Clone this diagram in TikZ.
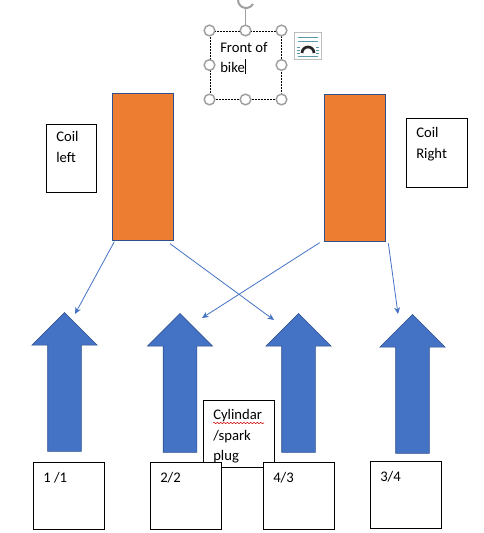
\documentclass[tikz,border=0pt]{standalone}
\usepackage{fontspec}
\setmainfont{Carlito}
\usetikzlibrary{shapes.arrows,decorations.pathmorphing,arrows.meta}
\definecolor{coilorange}{HTML}{ED7D31}
\definecolor{arrowblue}{HTML}{4472C4}
\definecolor{edgeblue}{HTML}{2F528F}
\definecolor{handlegray}{HTML}{A0A0A0}
\definecolor{wrapteal}{HTML}{5B9AA8}
\tikzset{
  coilbar/.style={draw=edgeblue,line width=.5pt,fill=coilorange,inner sep=0pt,minimum width=45.75pt,minimum height=110.25pt},
  bigarrow/.style={single arrow,shape border rotate=90,draw=edgeblue,line width=.4pt,fill=arrowblue,inner sep=0pt,text width=24.75pt,
    minimum height=104.25pt,single arrow head extend=12pt,single arrow tip angle=90,anchor=tip},
  whitebox/.style={draw=black,line width=.75pt,fill=white,inner sep=0pt},
  cyl/.style={whitebox,minimum width=53.25pt,minimum height=50.25pt},
  boxtext/.style={inner sep=0pt,anchor=north west,align=left,font=\fontsize{11}{15.5}\selectfont},
  link/.style={draw=arrowblue,line width=.6pt,-{Stealth[length=5pt,width=4.5pt]}},
  grip/.style={circle,draw=handlegray,line width=1.1pt,fill=white,inner sep=0pt,minimum size=8pt}
}
\begin{document}
\begin{tikzpicture}[x=.75pt,y=-.75pt]
\useasboundingbox (0,0) rectangle (483,533);
\fill[white] (0,0) rectangle (483,533);

% coils
\node[coilbar] (coilL) at (142.5,166.5) {};
\node[coilbar] (coilR) at (354.5,167.5) {};
\node[whitebox,minimum width=37.5pt,minimum height=51pt] (boxL) at (71,158) {};
\node[whitebox,minimum width=45.75pt,minimum height=51.75pt] (boxR) at (436.5,152.5) {};
\node[boxtext] (textL) at (56,131) {Coil\\left};
\node[boxtext] (textR) at (416,127) {Coil\\Right};

% big arrows
\node[bigarrow] (a1) at (64.5,312) {};
\node[bigarrow] (a2) at (180,313) {};
\node[bigarrow] (a3) at (298.5,313) {};
\node[bigarrow] (a4) at (412.5,314) {};

% cylinder label sits under the number boxes
\node[whitebox,minimum width=53.25pt,minimum height=50.25pt] (cylbox) at (238.5,433.5) {};
\node[boxtext] (cyltext) at (213,409) {Cylindar\\/spark\\plug};
\draw[red!80!black,line width=.4pt,decorate,decoration={snake,amplitude=.5pt,segment length=2.5pt}] (213,423) -- (264,423);

\node[cyl] (n1) at (69,495.5) {};
\node[cyl] (n2) at (185.5,495.5) {};
\node[cyl] (n3) at (298.5,495.5) {};
\node[cyl] (n4) at (405.5,494.5) {};
\node[boxtext] (t1) at (43,472) {1 /1};
\node[boxtext] (t2) at (160,472) {2/2};
\node[boxtext] (t3) at (273,472) {4/3};
\node[boxtext] (t4) at (380,471) {3/4};

% connectors
\coordinate (endA) at (75,314);
\coordinate (endB) at (274,320);
\coordinate (endC) at (202,318);
\coordinate (endD) at (398,314);
\draw[link] ([xshift=2pt,yshift=-1pt]coilL.south west) -- (endA);
\draw[link] ([xshift=-2.5pt,yshift=-2.5pt]coilL.south east) -- (endB);
\draw[link] ([xshift=-3pt,yshift=-1pt]coilR.south west) -- (endC);
\draw[link] ([xshift=2.25pt,yshift=-1.5pt]coilR.south east) -- (endD);

% selected text box
\node[draw=black,line width=.75pt,dash pattern=on 1.5pt off .75pt,minimum width=53.25pt,minimum height=51pt,inner sep=0pt] (front) at (245.5,65) {};
\node[boxtext] (fronttext) at (220,42) {Front of\\bike};
\draw[black,line width=.5pt] (245.5,59) -- (245.5,74);
\draw[handlegray,line width=.9pt] (front.north) -- (245.5,8);
\draw[handlegray,line width=1.5pt] (253,4) arc[start angle=30,end angle=200,radius=8];
\foreach \a in {north west,north,north east,west,east,south west,south,south east}
  \node[grip] at (front.\a) {};

% wrap icon
\node[draw=handlegray!70,line width=.5pt,fill=white,minimum size=20.25pt,inner sep=0pt] (wrapicon) at (308,46) {};
\foreach \y in {37,41,56}
  \draw[wrapteal,line width=.6pt] (298,\y) -- (318,\y);
\foreach \y in {47,50,53}{
  \draw[wrapteal,line width=.5pt] (297,\y) -- (300,\y);
  \draw[wrapteal,line width=.5pt] (316,\y) -- (319,\y);
}
\draw[black!85,line width=2pt] (302,53) arc[start angle=180,end angle=360,radius=6];
\end{tikzpicture}
\end{document}
